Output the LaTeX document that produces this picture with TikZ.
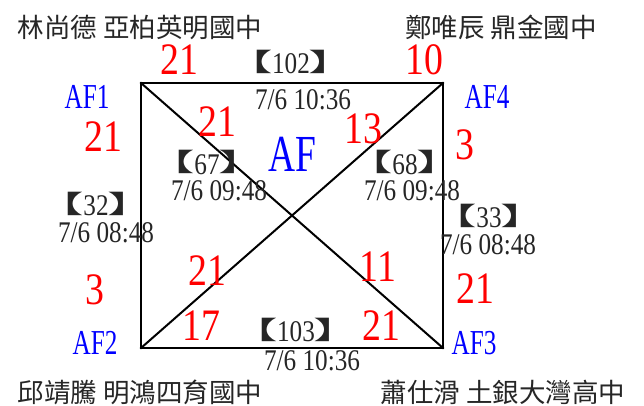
\documentclass[tikz,border=0pt]{standalone}
\usepackage{fontspec}
\setmainfont{Liberation Serif}[FakeStretch=0.84]
\newfontfamily\afont{Liberation Serif}[FakeStretch=0.72]
\newfontfamily\cjk{Noto Sans CJK TC}
\newfontfamily\cjkh{Noto Sans CJK TC}[RawFeature=+halt]
\newcommand\lbk{\raisebox{2pt}{\scalebox{1.7}[0.9]{\cjkh\fontsize{28}{28}\selectfont 【}}}
\newcommand\rbk{\raisebox{2pt}{\scalebox{1.7}[0.9]{\cjkh\fontsize{28}{28}\selectfont 】}}}
\newcommand\brk[1]{\lbk\kern-1pt#1\kern-1pt\rbk}
\begin{document}
\begin{tikzpicture}[x=1pt,y=-1pt,
  pname/.style={font=\cjk\fontsize{26.5}{26.5}\selectfont, inner sep=0, text=black!85},
  score/.style={text=red, font=\fontsize{45}{45}\selectfont, inner sep=0},
  team/.style={text=blue, font=\afont\fontsize{35}{35}\selectfont, inner sep=0},
  lab/.style={font=\fontsize{30}{30}\selectfont, inner sep=0, text=black!85,
    text height=20pt, text depth=0pt},
  blab/.style={font=\fontsize{30}{30}\selectfont, inner sep=0, text=black!85,
    text height=20pt, text depth=0pt},
  edge/.style={line width=2pt, line cap=rect}]
\useasboundingbox[fill=white] (0,0) rectangle (644,406);
% corners
\coordinate (A1) at (141,83);
\coordinate (A4) at (443,83);
\coordinate (A2) at (141,348);
\coordinate (A3) at (443,348);
\draw[edge] (A1) -- (A4) -- (A3) -- (A2) -- cycle;
\draw[edge] (A1) -- (A3);
\draw[edge] (A2) -- (A4);
% player names
\node[pname] (n1) at (140,27) {林尚德 亞柏英明國中};
\node[pname] (n4) at (501,27) {鄭唯辰 鼎金國中};
\node[pname] (n2) at (140,392) {邱靖騰 明鴻四育國中};
\node[pname] (n3) at (503,392) {蕭仕滑 土銀大灣高中};
% team labels
\node[team] (t1) at (87,97) {AF1};
\node[team] (t4) at (487,97) {AF4};
\node[team] (t2) at (95,343) {AF2};
\node[team] (t3) at (474,343) {AF3};
\node[text=blue, font=\afont\fontsize{52}{52}\selectfont, inner sep=0] (af) at (292,154) {AF};
% scores
\node[score] (s1) at (179,60) {21};
\node[score] (s2) at (424,60) {10};
\node[score] (s3) at (103,137) {21};
\node[score] (s4) at (465,145) {3};
\node[score] (s5) at (217,122) {21};
\node[score] (s6) at (363,129) {13};
\node[score] (s7) at (95,290) {3};
\node[score] (s8) at (475,289) {21};
\node[score] (s9) at (207,271) {21};
\node[score] (s10) at (378,267) {11};
\node[score] (s11) at (201,326) {17};
\node[score] (s12) at (381,326) {21};
% match labels
\node[blab] (m102) at (291,64) {\brk{102}};
\node[lab] (d102) at (303,100) {7/6 10:36};
\node[blab] (m67) at (207,164) {\brk{67}};
\node[lab] (d67) at (219,190) {7/6 09:48};
\node[blab] (m68) at (405,164) {\brk{68}};
\node[lab] (d68) at (412,190) {7/6 09:48};
\node[blab] (m32) at (96,205) {\brk{32}};
\node[lab] (d32) at (106,232) {7/6 08:48};
\node[blab] (m33) at (489,217) {\brk{33}};
\node[lab] (d33) at (488,244) {7/6 08:48};
\node[blab] (m103) at (296,331) {\brk{103}};
\node[lab] (d103) at (312,360) {7/6 10:36};
\end{tikzpicture}
\end{document}
